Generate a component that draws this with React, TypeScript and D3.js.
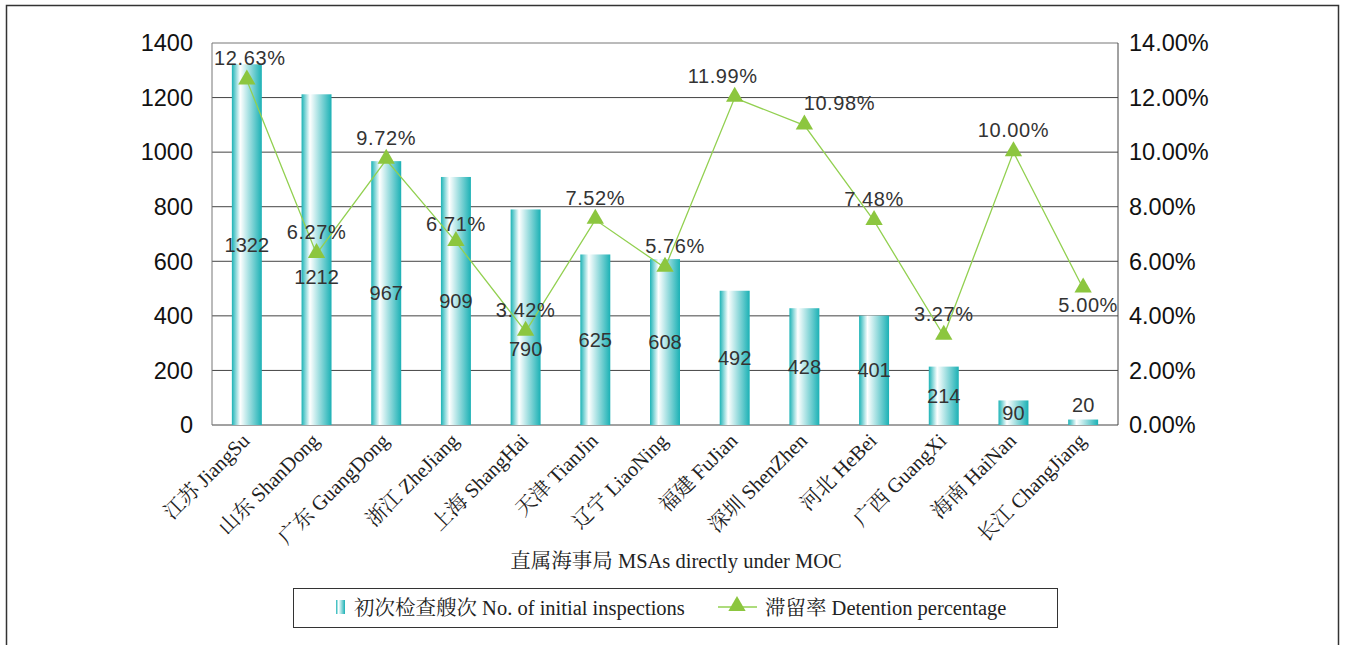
import React from "react";
import * as d3 from "d3";

const categories = [
  "江苏 JiangSu", "山东 ShanDong", "广东 GuangDong", "浙江 ZheJiang", "上海 ShangHai",
  "天津 TianJin", "辽宁 LiaoNing", "福建 FuJian", "深圳 ShenZhen", "河北 HeBei",
  "广西 GuangXi", "海南 HaiNan", "长江 ChangJiang",
];
const inspections = [1322, 1212, 967, 909, 790, 625, 608, 492, 428, 401, 214, 90, 20];
const detention = [12.63, 6.27, 9.72, 6.71, 3.42, 7.52, 5.76, 11.99, 10.98, 7.48, 3.27, 10.0, 5.0];
const leftTicks = [0, 200, 400, 600, 800, 1000, 1200, 1400];
const rightTicks = [0, 2, 4, 6, 8, 10, 12, 14];

// layout nudges for labels (pixels), not data
const barLabelDy = [0, 17, 0, 0, 32, 0, 0, 0, 0, 0, 0, 0, -15];
const barLabelAbove = [false, false, false, false, false, false, false, false, false, false, false, false, true];
const pctLabelDx = [3, 0, 0, 0, 0, 0, 10, -12, 35, 0, 0, 0, 5];
const pctLabelDy = [0, 0, 0, 4, 0, 0, 0, 0, 0, 0, 0, 0, 38];

const W = 1347, H = 645;
const L = 212, R = 1118, T = 43, B = 425;

export default function App() {
  const x = d3.scaleBand<string>().domain(categories).range([L, R]).padding(0);
  const y = d3.scaleLinear().domain([0, 1400]).range([B, T]);
  const y2 = d3.scaleLinear().domain([0, 14]).range([B, T]);
  const bw = x.bandwidth() * 0.43;
  const cx = (c: string) => (x(c) as number) + x.bandwidth() / 2;
  const line = d3.line<number>().x((_, i) => cx(categories[i])).y((d) => y2(d));
  const tri = d3.symbol().type(d3.symbolTriangle).size(130)();
  const sans = "'Liberation Sans', Arial, sans-serif";
  const serif = "'Liberation Serif', 'Times New Roman', 'Noto Serif CJK SC', serif";

  return (
    <svg width={W} height={H} style={{ position: "absolute", left: 0, top: 0, background: "#fff" }}>
      <defs>
        <linearGradient id="barGrad" x1="0" x2="1" y1="0" y2="0">
          <stop offset="0%" stopColor="#1cb3b6" />
          <stop offset="28%" stopColor="#ffffff" />
          <stop offset="100%" stopColor="#1bb1b5" />
        </linearGradient>
      </defs>
      <rect x={6.5} y={5.5} width={1332} height={700} fill="none" stroke="#333" strokeWidth={1.5} />

      {/* gridlines */}
      {leftTicks.map((t) => (
        <line key={t} x1={L} x2={R} y1={y(t)} y2={y(t)} stroke={t === 1400 ? "#777" : "#444"} strokeWidth={1} />
      ))}
      <line x1={L} x2={L} y1={T} y2={B} stroke="#777" />
      <line x1={R} x2={R} y1={T} y2={B} stroke="#444" />

      {/* left ticks */}
      {leftTicks.map((t) => (
        <text key={t} x={193} y={y(t)} dy="0.35em" textAnchor="end" fontFamily={sans} fontSize={23.5} fill="#111">{t}</text>
      ))}
      {rightTicks.map((t) => (
        <text key={t} x={1129} y={y2(t)} dy="0.35em" textAnchor="start" fontFamily={sans} fontSize={23.5} fill="#111">{t.toFixed(2)}%</text>
      ))}

      {/* bars */}
      {inspections.map((v, i) => (
        <rect key={i} x={cx(categories[i]) - bw / 2} y={y(v)} width={bw} height={B - y(v)} fill="url(#barGrad)" />
      ))}
      {inspections.map((v, i) => (
        <text key={i} x={cx(categories[i])} y={barLabelAbove[i] ? y(v) + barLabelDy[i] : y(v / 2) + barLabelDy[i]} dy="0.35em"
          textAnchor="middle" fontFamily={sans} fontSize={20} fill="#333">{v}</text>
      ))}

      {/* line */}
      <path d={line(detention) || ""} fill="none" stroke="#92d050" strokeWidth={1.3} />
      {detention.map((v, i) => (
        <path key={i} d={tri || ""} transform={`translate(${cx(categories[i])},${y2(v) - 1})`} fill="#8cc63f" />
      ))}
      {detention.map((v, i) => (
        <text key={i} x={cx(categories[i]) + pctLabelDx[i]} y={y2(v) - 22 + pctLabelDy[i]} dy="0.35em"
          textAnchor="middle" fontFamily={sans} fontSize={20} letterSpacing={0.6} fill="#333">{v.toFixed(2)}%</text>
      ))}

      {/* x labels */}
      {categories.map((c) => (
        <text key={c} transform={`translate(${cx(c) + 4},${442}) rotate(-45)`} textAnchor="end"
          fontFamily={serif} fontSize={20.5} fill="#222">{c}</text>
      ))}
      <text x={676} y={561} dy="0.35em" textAnchor="middle" fontFamily={serif} fontSize={20.5} fill="#222">直属海事局 MSAs directly under MOC</text>

      {/* legend */}
      <rect x={293.5} y={588.5} width={764} height={39} fill="#fff" stroke="#333" />
      <rect x={336} y={600} width={9} height={14} fill="url(#barGrad)" />
      <text x={354} y={608} dy="0.35em" fontFamily={serif} fontSize={20.5} fill="#222">初次检查艘次 No. of initial inspections</text>
      <line x1={718} x2={757} y1={607} y2={607} stroke="#92d050" strokeWidth={1.3} />
      <path d={tri || ""} transform="translate(737,606)" fill="#8cc63f" />
      <text x={765} y={608} dy="0.35em" fontFamily={serif} fontSize={20.5} fill="#222">滞留率 Detention percentage</text>
    </svg>
  );
}
